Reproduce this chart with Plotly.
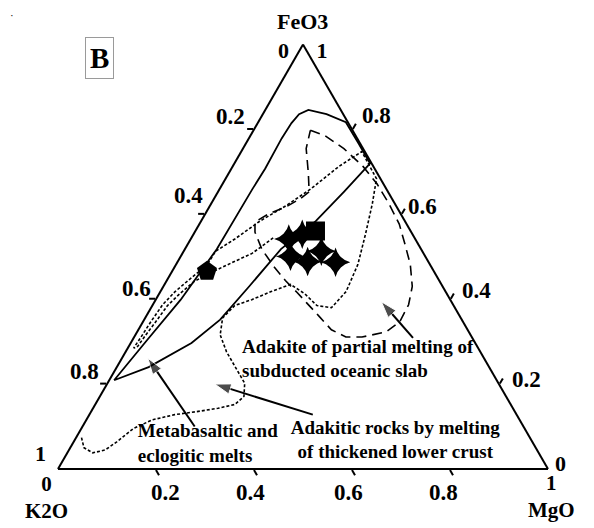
import plotly.graph_objects as go

FONT = "Liberation Serif"

# ---- data: (FeO3, K2O, MgO) fractions ----
metabasalt_curve = [
    (0.209, 0.781, 0.010), (0.304, 0.666, 0.030), (0.399, 0.550, 0.051),
    (0.518, 0.417, 0.065), (0.660, 0.273, 0.067), (0.708, 0.223, 0.069),
    (0.779, 0.154, 0.067), (0.815, 0.116, 0.069), (0.836, 0.090, 0.074),
    (0.846, 0.066, 0.088), (0.836, 0.034, 0.130), (0.817, 0.004, 0.179),
    (0.767, 0.003, 0.230), (0.720, 0.003, 0.277), (0.653, 0.090, 0.257),
    (0.584, 0.182, 0.234), (0.518, 0.286, 0.196), (0.430, 0.395, 0.175),
    (0.352, 0.493, 0.155), (0.297, 0.579, 0.124), (0.240, 0.695, 0.065),
    (0.209, 0.781, 0.010),
]

lower_crust_curve = [
    (0.074, 0.915, 0.011), (0.050, 0.922, 0.028), (0.038, 0.910, 0.052),
    (0.045, 0.881, 0.074), (0.064, 0.848, 0.088), (0.095, 0.799, 0.106),
    (0.116, 0.749, 0.135), (0.128, 0.698, 0.174), (0.135, 0.650, 0.215),
    (0.143, 0.602, 0.255), (0.152, 0.563, 0.285), (0.171, 0.535, 0.294),
    (0.202, 0.518, 0.280), (0.233, 0.518, 0.249), (0.276, 0.518, 0.206),
    (0.316, 0.511, 0.173), (0.356, 0.486, 0.158), (0.385, 0.447, 0.168),
    (0.399, 0.405, 0.196), (0.418, 0.356, 0.226), (0.435, 0.308, 0.257),
    (0.413, 0.290, 0.297), (0.385, 0.279, 0.336), (0.380, 0.252, 0.368),
    (0.418, 0.203, 0.379), (0.482, 0.147, 0.371), (0.553, 0.096, 0.351),
    (0.625, 0.046, 0.329), (0.684, 0.008, 0.308), (0.748, 0.006, 0.246),
    (0.713, 0.070, 0.217), (0.660, 0.154, 0.186), (0.620, 0.225, 0.155),
    (0.584, 0.296, 0.120), (0.542, 0.368, 0.090), (0.513, 0.422, 0.065),
    (0.480, 0.456, 0.064), (0.447, 0.508, 0.045), (0.418, 0.552, 0.030),
    (0.387, 0.593, 0.020), (0.347, 0.637, 0.016), (0.311, 0.675, 0.014),
    (0.285, 0.703, 0.012), (0.287, 0.695, 0.018), (0.314, 0.665, 0.021),
    (0.347, 0.627, 0.026), (0.385, 0.584, 0.031), (0.413, 0.545, 0.042),
    (0.442, 0.501, 0.057), (0.466, 0.449, 0.085), (0.487, 0.400, 0.113),
    (0.508, 0.350, 0.142), (0.546, 0.286, 0.168),
]

slab_curve = [
    (0.798, 0.086, 0.116), (0.786, 0.063, 0.151), (0.755, 0.039, 0.206),
    (0.713, 0.021, 0.266), (0.672, 0.013, 0.315), (0.625, 0.012, 0.363),
    (0.577, 0.015, 0.408), (0.530, 0.027, 0.443), (0.482, 0.040, 0.478),
    (0.430, 0.062, 0.508), (0.387, 0.091, 0.522), (0.347, 0.129, 0.524),
    (0.323, 0.169, 0.508), (0.311, 0.224, 0.465), (0.311, 0.257, 0.432),
    (0.328, 0.278, 0.394), (0.359, 0.287, 0.354), (0.392, 0.297, 0.311),
    (0.416, 0.304, 0.280), (0.444, 0.314, 0.242), (0.477, 0.321, 0.202),
    (0.518, 0.325, 0.157), (0.558, 0.319, 0.123), (0.582, 0.307, 0.111),
    (0.601, 0.270, 0.129), (0.620, 0.221, 0.159), (0.637, 0.187, 0.176),
    (0.653, 0.161, 0.186), (0.696, 0.141, 0.163), (0.755, 0.116, 0.129),
    (0.798, 0.086, 0.116),
]

pentagon_samples = [(0.466, 0.463, 0.071)]
square_samples = [(0.561, 0.194, 0.245)]
star_samples = [
    (0.542, 0.258, 0.200), (0.553, 0.225, 0.222), (0.501, 0.275, 0.224),
    (0.489, 0.246, 0.265), (0.513, 0.206, 0.281), (0.487, 0.190, 0.323),
]

arrow_tails = [(0.309, 0.121, 0.570), (0.100, 0.671, 0.229), (0.128, 0.416, 0.456)]
arrow_heads = [(0.394, 0.143, 0.463), (0.261, 0.686, 0.053), (0.200, 0.580, 0.220)]

field_labels = [
    "Adakite of partial melting of<br>subducted oceanic slab",
    "Metabasaltic and<br>eclogitic melts",
    "Adakitic rocks by melting<br>of thickened lower crust",
]
field_label_pos = [(0.2565, 0.496, 0.2475), (0.057, 0.8085, 0.1345), (0.0653, 0.279, 0.6557)]
field_label_anchor = ["middle right", "middle right", "middle center"]

# tick labels, listed from top (or left) to bottom (or right) along each side
left_tick_labels = ["0.2", "0.4", "0.6", "0.8"]
left_tick_pos = [(0.831, 0.232, -0.063), (0.644, 0.412, -0.056),
                 (0.425, 0.627, -0.052), (0.230, 0.831, -0.061)]
right_tick_labels = ["0.8", "0.6", "0.4", "0.2"]
right_tick_pos = [(0.834, -0.067, 0.233), (0.618, -0.053, 0.435),
                  (0.420, -0.064, 0.644), (0.211, -0.061, 0.850)]
bottom_tick_labels = ["0.2", "0.4", "0.6", "0.8"]
bottom_tick_pos = [(-0.055, 0.808, 0.247), (-0.055, 0.634, 0.421),
                   (-0.055, 0.434, 0.621), (-0.055, 0.240, 0.815)]

NB = "\u00a0"
corner_labels = [
    "FeO3<br>0" + NB * 5 + "1",   # apex: title with its end values
    "1",                           # K2O value at the K2O corner (left side)
    "0<br>K2O",                    # bottom axis start + title
    "0",                           # FeO3 value at the MgO corner (right side)
    "1<br>MgO",                    # bottom axis end + title
]
corner_label_pos = [
    (1.0214, -0.0107, -0.0107),
    (0.0353, 1.0171, -0.0524),
    (-0.0683, 1.0566, 0.0117),
    (0.012, -0.032, 1.020),
    (-0.066, 0.0259, 1.0401),
]
corner_label_size = [22, 22, 21, 22, 21]

# ternary plot area (paper fractions); equilateral: width 490 px, height 424.4 px
FIG_W, FIG_H = 586, 520
DOM_X = [0.0853, 0.9215]
DOM_Y = [0.1135, 0.9296]


def split(points):
    return ([p[0] for p in points], [p[1] for p in points], [p[2] for p in points])


def ternary_to_paper(point):
    a, b, c = point
    s = a + b + c
    a, c = a / s, c / s
    x = DOM_X[0] + (c + a / 2) * (DOM_X[1] - DOM_X[0])
    y = DOM_Y[0] + a * (DOM_Y[1] - DOM_Y[0])
    return x, y


fig = go.Figure()


def add_line(points, dash, width):
    a, b, c = split(points)
    fig.add_trace(go.Scatterternary(
        a=a, b=b, c=c, mode="lines",
        line=dict(color="black", width=width, dash=dash),
        hoverinfo="skip", showlegend=False))


add_line(metabasalt_curve, "solid", 1.8)
add_line(lower_crust_curve, "3px,2px", 1.6)
add_line(slab_curve, "10px,6px", 1.6)


def add_markers(points, symbol, size):
    a, b, c = split(points)
    fig.add_trace(go.Scatterternary(
        a=a, b=b, c=c, mode="markers",
        marker=dict(symbol=symbol, size=size, color="black", line=dict(width=0)),
        hoverinfo="skip", showlegend=False))


add_markers(pentagon_samples, "pentagon", 21)
add_markers(star_samples, "star-diamond", 21)
add_markers(square_samples, "square", 19)

for tail, head in zip(arrow_tails, arrow_heads):
    a, b, c = split([tail, head])
    fig.add_trace(go.Scatterternary(
        a=a, b=b, c=c, mode="lines+markers",
        line=dict(color="black", width=2),
        marker=dict(symbol=["circle", "arrow"], size=[0, 17], color="black",
                    angleref="previous"),
        hoverinfo="skip", showlegend=False))

a, b, c = split(field_label_pos)
fig.add_trace(go.Scatterternary(
    a=a, b=b, c=c, mode="text",
    text=["<b>" + t + "</b>" for t in field_labels],
    textposition=field_label_anchor,
    textfont=dict(family=FONT, size=19, color="black"),
    cliponaxis=False, hoverinfo="skip", showlegend=False))

annotations = []
label_groups = [
    (left_tick_labels, left_tick_pos, [23] * 4),
    (right_tick_labels, right_tick_pos, [23] * 4),
    (bottom_tick_labels, bottom_tick_pos, [23] * 4),
    (corner_labels, corner_label_pos, corner_label_size),
]
for texts, positions, sizes in label_groups:
    for t, p, s in zip(texts, positions, sizes):
        x, y = ternary_to_paper(p)
        annotations.append(dict(
            text="<b>" + t + "</b>", x=x, y=y, xref="paper", yref="paper",
            xanchor="center", yanchor="middle", showarrow=False,
            font=dict(family=FONT, size=s, color="black")))

annotations.append(dict(
    text="<b>B</b>", x=0.1553, y=0.9038, xref="paper", yref="paper",
    xanchor="center", yanchor="middle", showarrow=False,
    font=dict(family=FONT, size=29, color="black"),
    bordercolor="#9a9a9a", borderwidth=1, borderpad=4, bgcolor="white"))
annotations.append(dict(
    text="\u00b7", x=0.006, y=0.987, xref="paper", yref="paper",
    xanchor="center", yanchor="middle", showarrow=False,
    font=dict(family=FONT, size=11, color="black")))

axis_style = dict(
    showgrid=False, showticklabels=False, ticks="outside", ticklen=6,
    tickwidth=1.5, tickcolor="black", linecolor="black", linewidth=2,
    tickvals=[0.2, 0.4, 0.6, 0.8], title=dict(text=""),
)

fig.update_layout(
    width=FIG_W, height=FIG_H,
    margin=dict(l=0, r=0, t=0, b=0),
    paper_bgcolor="white",
    showlegend=False,
    ternary=dict(
        domain=dict(x=DOM_X, y=DOM_Y),
        bgcolor="white", sum=1,
        aaxis=axis_style, baxis=axis_style, caxis=axis_style,
    ),
    annotations=annotations,
)

fig.write_html("out.html")
